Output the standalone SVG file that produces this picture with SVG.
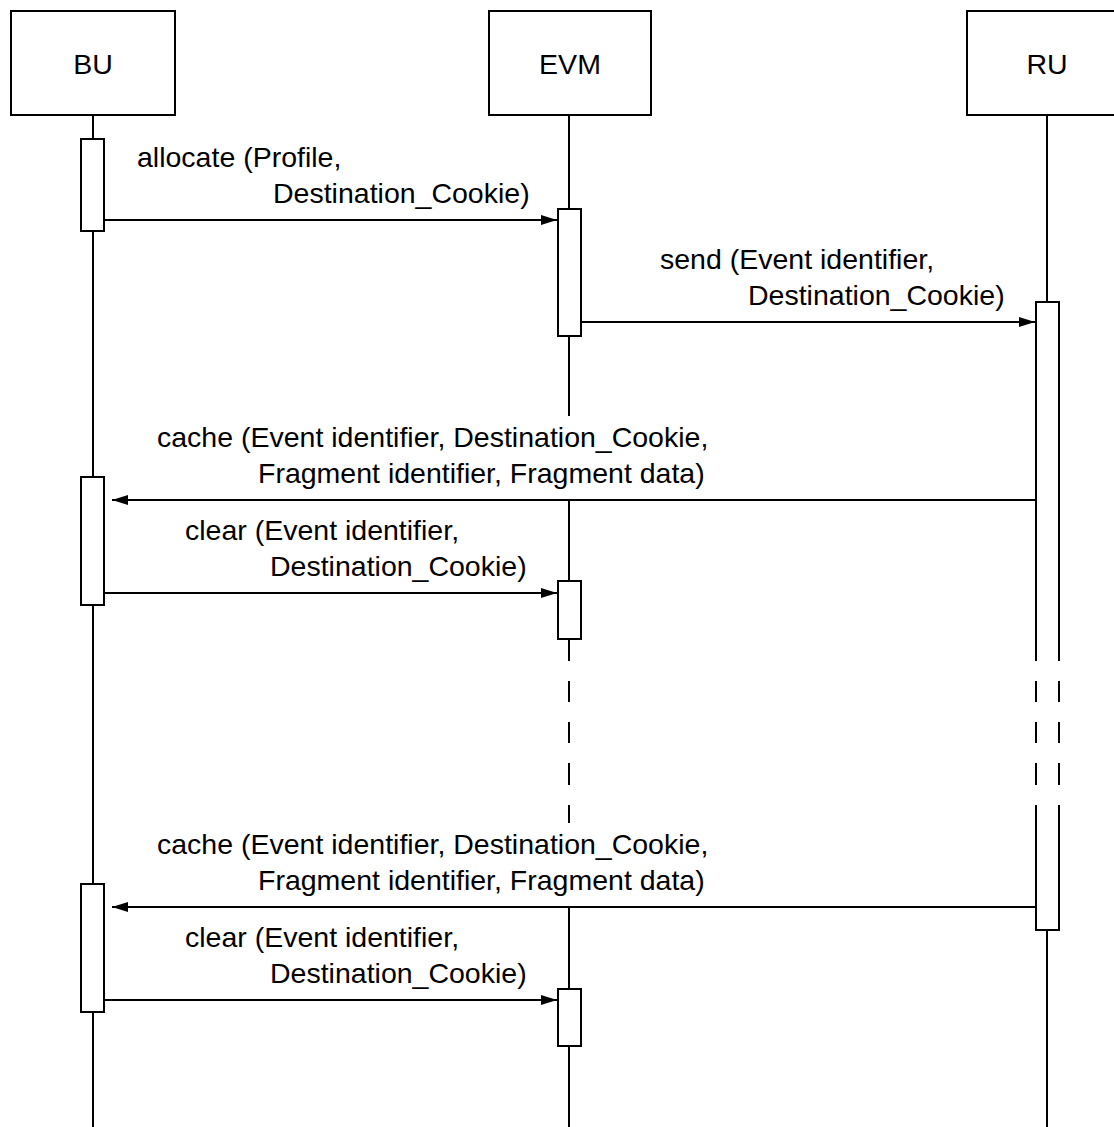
<svg xmlns="http://www.w3.org/2000/svg" width="1114" height="1127" viewBox="0 0 1114 1127">
  <style>
    .box { fill: #fff; stroke: #000; stroke-width: 2; }
    .act { fill: #fff; stroke: #000; stroke-width: 2; }
    .life { stroke: #000; stroke-width: 2; fill: none; }
    .msg { stroke: #000; stroke-width: 2; fill: none; marker-end: url(#head); }
    text { font-family: "Liberation Sans", Arial, sans-serif; font-size: 28.5px; fill: #000; }
    .c { text-anchor: middle; }
  </style>
  <defs>
    <marker id="head" markerUnits="userSpaceOnUse" markerWidth="17" markerHeight="11" refX="16" refY="5.5" orient="auto">
      <path d="M0,0.5 L16,5.5 L0,10.5 Z" fill="#000"/>
    </marker>
  </defs>
  <rect width="1114" height="1127" fill="#fff"/>

  <!-- lifelines -->
  <g id="lifelines">
    <path class="life" d="M93,115 V1127"/>
    <path class="life" d="M569,115 V209 M569,336 V416 M569,501 V581 M569,639 V661 M569,681 V702 M569,722 V743 M569,763 V785 M569,805 V823 M569,907 V989 M569,1046 V1127"/>
    <path class="life" d="M1047,115 V302 M1047,930 V1127"/>
  </g>

  <!-- participants -->
  <g id="bu">
    <rect class="box" x="11" y="11" width="164" height="104"/>
    <text class="c" x="93" y="74">BU</text>
  </g>
  <g id="evm">
    <rect class="box" x="489" y="11" width="162" height="104"/>
    <text class="c" x="570" y="74">EVM</text>
  </g>
  <g id="ru">
    <rect class="box" x="967" y="11" width="170" height="104"/>
    <text class="c" x="1047" y="74">RU</text>
  </g>

  <!-- activation bars -->
  <g id="bu-activations">
    <rect class="act" x="81" y="139" width="23" height="92"/>
    <rect class="act" x="81" y="477" width="23" height="128"/>
    <rect class="act" x="81" y="884" width="23" height="128"/>
  </g>
  <g id="evm-activations">
    <rect class="act" x="558" y="209" width="23" height="127"/>
    <rect class="act" x="558" y="581" width="23" height="58"/>
    <rect class="act" x="558" y="989" width="23" height="57"/>
  </g>
  <g id="ru-activation">
    <rect x="1036" y="302" width="23" height="628" fill="#fff"/>
    <path class="life" d="M1035,302 H1060 M1035,930 H1060"/>
    <path class="life" d="M1036,302 V661 M1036,681 V702 M1036,722 V743 M1036,763 V785 M1036,805 V930"/>
    <path class="life" d="M1059,302 V661 M1059,681 V702 M1059,722 V743 M1059,763 V785 M1059,805 V930"/>
  </g>

  <!-- messages -->
  <g id="messages">
    <path class="msg" d="M104,220 H557"/>
    <path class="msg" d="M581,322 H1035"/>
    <path class="msg" d="M1036,500 H112"/>
    <path class="msg" d="M104,593 H557"/>
    <path class="msg" d="M1036,907 H112"/>
    <path class="msg" d="M104,1000 H557"/>
  </g>

  <!-- message labels -->
  <g id="labels">
    <text x="137" y="167">allocate (Profile,</text>
    <text x="273" y="203">Destination_Cookie)</text>
    <text x="660" y="269">send (Event identifier,</text>
    <text x="748" y="305">Destination_Cookie)</text>
    <text x="157" y="447">cache (Event identifier, Destination_Cookie,</text>
    <text x="258" y="483">Fragment identifier, Fragment data)</text>
    <text x="185" y="540">clear (Event identifier,</text>
    <text x="270" y="576">Destination_Cookie)</text>
    <text x="157" y="854">cache (Event identifier, Destination_Cookie,</text>
    <text x="258" y="890">Fragment identifier, Fragment data)</text>
    <text x="185" y="947">clear (Event identifier,</text>
    <text x="270" y="983">Destination_Cookie)</text>
  </g>
</svg>
